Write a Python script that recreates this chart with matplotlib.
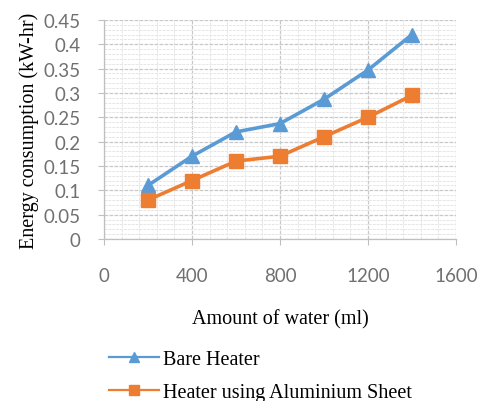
import matplotlib
matplotlib.use("Agg")
import matplotlib.pyplot as plt
from matplotlib.ticker import MultipleLocator

water_ml = [200, 400, 600, 800, 1000, 1200, 1400]
bare_heater = [0.11, 0.17, 0.22, 0.237, 0.287, 0.347, 0.42]
aluminium_sheet = [0.08, 0.12, 0.16, 0.17, 0.21, 0.25, 0.295]
series_names = ["Bare Heater", "Heater using Aluminium Sheet"]
x_label = "Amount of water (ml)"
y_label = "Energy consumption (kW-hr)"

fig = plt.figure(figsize=(4.79, 4.02), dpi=100)
ax = fig.add_axes([0.217, 0.403, 0.735, 0.545])

blue = "#5B9BD5"
orange = "#ED7D31"
ax.plot(water_ml, bare_heater, color=blue, lw=2.6, marker="^", ms=10.5,
        label=series_names[0], zorder=4)
ax.plot(water_ml, aluminium_sheet, color=orange, lw=2.6, marker="s", ms=9.5,
        label=series_names[1], zorder=4)

ax.set_xlim(0, 1600)
ax.set_ylim(0, 0.45)
ax.xaxis.set_major_locator(MultipleLocator(400))
ax.xaxis.set_minor_locator(MultipleLocator(80))
ax.yaxis.set_major_locator(MultipleLocator(0.05))
ax.yaxis.set_minor_locator(MultipleLocator(0.01))
ax.yaxis.set_major_formatter(plt.FuncFormatter(lambda v, p: f"{v:g}"))

ax.grid(which="major", color="#c8c8c8", lw=0.9, ls=(0, (3, 1)))
ax.grid(which="minor", color="#e6e6e6", lw=0.7, ls=(0, (3, 1)))
ax.set_axisbelow(True)

for s in ("top", "right"):
    ax.spines[s].set_visible(False)
for s in ("left", "bottom"):
    ax.spines[s].set_color("#bfbfbf")
    ax.spines[s].set_linewidth(0.9)

ax.tick_params(which="major", length=4, color="#bfbfbf", labelcolor="#707070",
               labelsize=13.5)
ax.tick_params(which="minor", length=0)
for lab in ax.get_xticklabels() + ax.get_yticklabels():
    lab.set_fontfamily("Lato")
ax.tick_params(axis="x", pad=16)
ax.tick_params(axis="y", pad=13)

ax.set_xlabel(x_label, family="Liberation Serif", fontsize=14.5, labelpad=18)
ax.set_ylabel(y_label, family="Liberation Serif", fontsize=14.5, labelpad=3)

leg = fig.legend(loc="upper left", bbox_to_anchor=(0.21, 0.148), ncol=1,
                 frameon=False, prop={"family": "Liberation Serif", "size": 14.5},
                 handlelength=2.5, handletextpad=0.2, labelspacing=0.72,
                 borderaxespad=0)
for h in leg.legend_handles:
    h.set_linewidth(1.6)
    h.set_markersize(7)

fig.savefig("out.png", dpi=100)
